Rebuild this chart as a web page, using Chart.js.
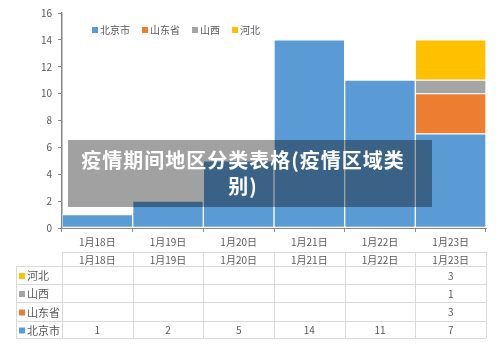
<!DOCTYPE html>
<html>
<head>
<meta charset="utf-8">
<script src="https://cdn.jsdelivr.net/npm/chart.js@4.4.0/dist/chart.umd.min.js"></script>
<style>
  html, body { margin: 0; padding: 0; background: #fff; }
  #wrap { position: relative; width: 500px; height: 347px; }
  #overlay {
    position: absolute; left: 68px; top: 140px; width: 364px; height: 67px;
    background: rgba(0,0,0,0.37); color: #fff; text-align: center;
    font: bold 20px "Noto Sans CJK SC", sans-serif; line-height: 26px;
    letter-spacing: 1px;
    box-sizing: border-box; padding: 7px 14px 0 0;
  }
</style>
</head>
<body>
<div id="wrap">
  <canvas id="myChart" width="500" height="347"></canvas>
  <div id="overlay">疫情期间地区分类表格(疫情区域类<br>别)</div>
</div>
<script>
// data
var dates = ["1月18日", "1月19日", "1月20日", "1月21日", "1月22日", "1月23日"];
var beijing = [1, 2, 5, 14, 11, 7];
var shandong = [null, null, null, null, null, 3];
var shanxi = [null, null, null, null, null, 1];
var hebei = [null, null, null, null, null, 3];
var yTicks = [0, 2, 4, 6, 8, 10, 12, 14, 16];

var font = '"Noto Sans CJK SC", sans-serif';
var textColor = "#595959";
var lineColor = "#d9d9d9";

// legend + data table below the axis
var tablePlugin = {
  id: "tablePlugin",
  afterDraw: function(chart) {
    var ctx = chart.ctx;
    var x = chart.scales.x;
    var area = chart.chartArea;
    var w = (area.right - area.left) / dates.length;
    var ds = chart.data.datasets;
    ctx.save();

    // legend inside plot
    ctx.font = "10px " + font;
    ctx.textBaseline = "middle";
    var lx = 92, ly = 30;
    ds.forEach(function(d) {
      ctx.fillStyle = d.backgroundColor;
      ctx.fillRect(lx, ly - 3, 6, 6);
      ctx.fillStyle = textColor;
      ctx.textAlign = "left";
      ctx.fillText(d.label, lx + 8, ly);
      lx += 8 + ctx.measureText(d.label).width + 12;
    });

    // table grid
    var rows = [252, 266, 284, 302, 321, 338];
    var left = 16;
    ctx.strokeStyle = lineColor;
    ctx.lineWidth = 1;
    ctx.beginPath();
    ctx.moveTo(area.left, rows[0] + 0.5); ctx.lineTo(area.right, rows[0] + 0.5);
    for (var r = 1; r < rows.length; r++) {
      ctx.moveTo(left, rows[r] + 0.5); ctx.lineTo(area.right, rows[r] + 0.5);
    }
    ctx.moveTo(left + 0.5, rows[1]); ctx.lineTo(left + 0.5, rows[5]);
    for (var i = 0; i <= dates.length; i++) {
      var cx = Math.round(area.left + i * w) + 0.5;
      ctx.moveTo(cx, rows[0]); ctx.lineTo(cx, rows[5]);
    }
    ctx.stroke();

    // header
    ctx.fillStyle = textColor;
    ctx.textAlign = "center";
    ctx.font = "10px " + font;
    dates.forEach(function(d, i) {
      ctx.fillText(d, x.getPixelForValue(i), (rows[0] + rows[1]) / 2 + 1);
    });

    // rows: reverse dataset order
    var order = ds.slice().reverse();
    order.forEach(function(d, r) {
      var cy = (rows[r + 1] + rows[r + 2]) / 2 + 1;
      ctx.fillStyle = d.backgroundColor;
      ctx.fillRect(19, cy - 3, 6, 6);
      ctx.fillStyle = textColor;
      ctx.textAlign = "left";
      ctx.font = "11px " + font;
      ctx.fillText(d.label, 27, cy);
      ctx.textAlign = "center";
      ctx.font = "10px " + font;
      d.data.forEach(function(v, i) {
        if (v != null) ctx.fillText(String(v), x.getPixelForValue(i), cy);
      });
    });
    ctx.restore();
  }
};

var myChart = document.querySelector("#myChart").getContext("2d");
var chart = new Chart(myChart, {
  type: "bar",
  data: {
    labels: dates,
    datasets: [
      { label: "北京市", data: beijing, backgroundColor: "#5B9BD5" },
      { label: "山东省", data: shandong, backgroundColor: "#ED7D31" },
      { label: "山西", data: shanxi, backgroundColor: "#A5A5A5" },
      { label: "河北", data: hebei, backgroundColor: "#FFC000" }
    ]
  },
  options: {
    responsive: false,
    animation: false,
    layout: { padding: { top: 13, right: 14, bottom: 0, left: 0 } },
    datasets: {
      bar: {
        barPercentage: 1,
        categoryPercentage: 1,
        borderWidth: 1,
        borderColor: "rgba(255,255,255,0.6)",
        borderSkipped: false
      }
    },
    plugins: {
      legend: { display: false },
      tooltip: { enabled: false }
    },
    scales: {
      x: {
        stacked: true,
        afterFit: function(s) { s.height = 119; },
        grid: { drawOnChartArea: false, tickLength: 4, color: "#868686" },
        border: { color: "#868686" },
        ticks: { color: textColor, font: { family: font, size: 10 }, padding: 4, maxRotation: 0 }
      },
      y: {
        stacked: true,
        min: 0,
        max: 16,
        afterFit: function(s) { s.width = 62; },
        afterBuildTicks: function(s) { s.ticks = yTicks.map(function(v) { return { value: v }; }); },
        grid: { drawOnChartArea: false, tickLength: 4, color: "#868686" },
        border: { color: "#868686", width: 1.5 },
        ticks: { color: textColor, font: { family: font, size: 10 }, padding: 6 }
      }
    }
  },
  plugins: [tablePlugin]
});
</script>
</body>
</html>
